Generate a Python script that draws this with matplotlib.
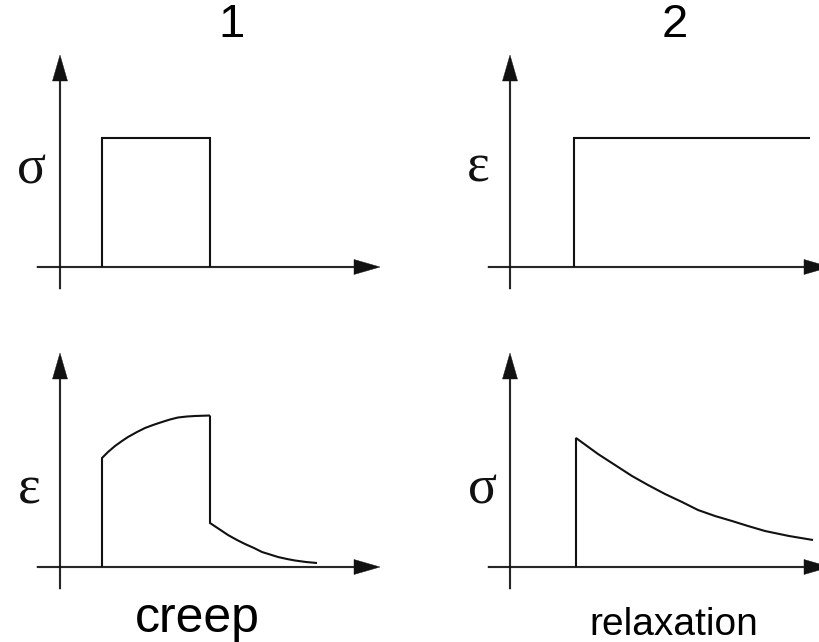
import matplotlib
matplotlib.use("Agg")
import matplotlib.pyplot as plt

W, H = 819, 642
INK = '#111111'

# data, in units of 100 px from each panel's origin (time, value)
# panel 1: stress step (creep input)
p1_t = [0.42, 0.42, 1.50, 1.50]
p1_v = [0.00, 1.29, 1.29, 0.00]

# panel 2: strain step (relaxation input)
p2_t = [0.64, 0.64, 3.00]
p2_v = [0.00, 1.29, 1.29]

# panel 3: creep response (strain)
p3_load_t = [0.42, 0.42, 0.48, 0.55, 0.62, 0.68, 0.77, 0.85, 0.93, 1.02,
             1.10, 1.18, 1.27, 1.35, 1.50]
p3_load_v = [0.00, 1.09, 1.15, 1.21, 1.26, 1.30, 1.35, 1.39, 1.42, 1.45,
             1.475, 1.495, 1.505, 1.51, 1.515]
p3_unload_t = [1.50, 1.50, 1.59, 1.68, 1.77, 1.85, 1.94, 2.02, 2.10, 2.18,
               2.27, 2.35, 2.46, 2.57]
p3_unload_v = [1.515, 0.44, 0.38, 0.32, 0.27, 0.23, 0.19, 0.15, 0.125, 0.10,
               0.08, 0.065, 0.05, 0.04]

# panel 4: stress relaxation response
p4_t = [0.66, 0.66, 0.77, 0.88, 1.05, 1.22, 1.38, 1.55, 1.72, 1.88, 2.05,
        2.22, 2.38, 2.55, 2.79, 3.03]
p4_v = [0.00, 1.29, 1.21, 1.13, 1.02, 0.91, 0.82, 0.73, 0.65, 0.57, 0.51,
        0.46, 0.41, 0.36, 0.31, 0.27]

fig = plt.figure(figsize=(W / 100, H / 100), dpi=100)
fig.patch.set_facecolor('white')


def panel(ox, oy):
    # axes box 400x280 px, 100 px per data unit, origin at (ox, oy) pixels
    ax = fig.add_axes([(ox - 50) / W, 1 - (oy + 40) / H, 400 / W, 280 / H])
    ax.set_xlim(-0.5, 3.5)
    ax.set_ylim(-0.4, 2.4)
    ax.axis('off')
    return ax


def axes_arrows(ax, x_end, y_end, x_start=-0.23, y_start=-0.22):
    kw = dict(width=0.017, head_width=0.15, head_length=0.26,
              length_includes_head=True, fc=INK, ec=INK, lw=0.3,
              clip_on=False)
    ax.arrow(x_start, 0, x_end - x_start, 0, **kw)
    ax.arrow(0, y_start, 0, y_end - y_start, **kw)


serif = dict(family='Liberation Serif', fontsize=39, ha='center', va='center',
             color=INK)
line = dict(color=INK, lw=1.5, solid_joinstyle='miter', solid_capstyle='butt')

ax1 = panel(60, 267)
axes_arrows(ax1, 3.20, 2.12)
ax1.plot(p1_t, p1_v, **line)
ax1.text(-0.28, 0.97, 'σ', **serif)

ax2 = panel(510, 267)
axes_arrows(ax2, 3.20, 2.12, x_start=-0.22)
ax2.plot(p2_t, p2_v, clip_on=False, **line)
ax2.text(-0.32, 0.99, 'ε', **serif)

ax3 = panel(60, 567)
axes_arrows(ax3, 3.20, 2.14)
ax3.plot(p3_load_t, p3_load_v, **line)
ax3.plot(p3_unload_t, p3_unload_v, **line)
ax3.text(-0.31, 0.77, 'ε', **serif)

ax4 = panel(510, 567)
axes_arrows(ax4, 3.20, 2.14, x_start=-0.22)
ax4.plot(p4_t, p4_v, **line)
ax4.text(-0.28, 0.77, 'σ', **serif)

sans = dict(family='Liberation Sans', color='black', ha='center')
fig.text(232 / W, 1 - 25 / H, '1', fontsize=34, va='center', **sans)
fig.text(675 / W, 1 - 25 / H, '2', fontsize=34, va='center', **sans)
fig.text(197 / W, 1 - 632 / H, 'creep', fontsize=36, va='baseline', **sans)
fig.text(674 / W, 1 - 635 / H, 'relaxation', fontsize=28, va='baseline', **sans)

fig.savefig('out.png', dpi=100, facecolor='white')
